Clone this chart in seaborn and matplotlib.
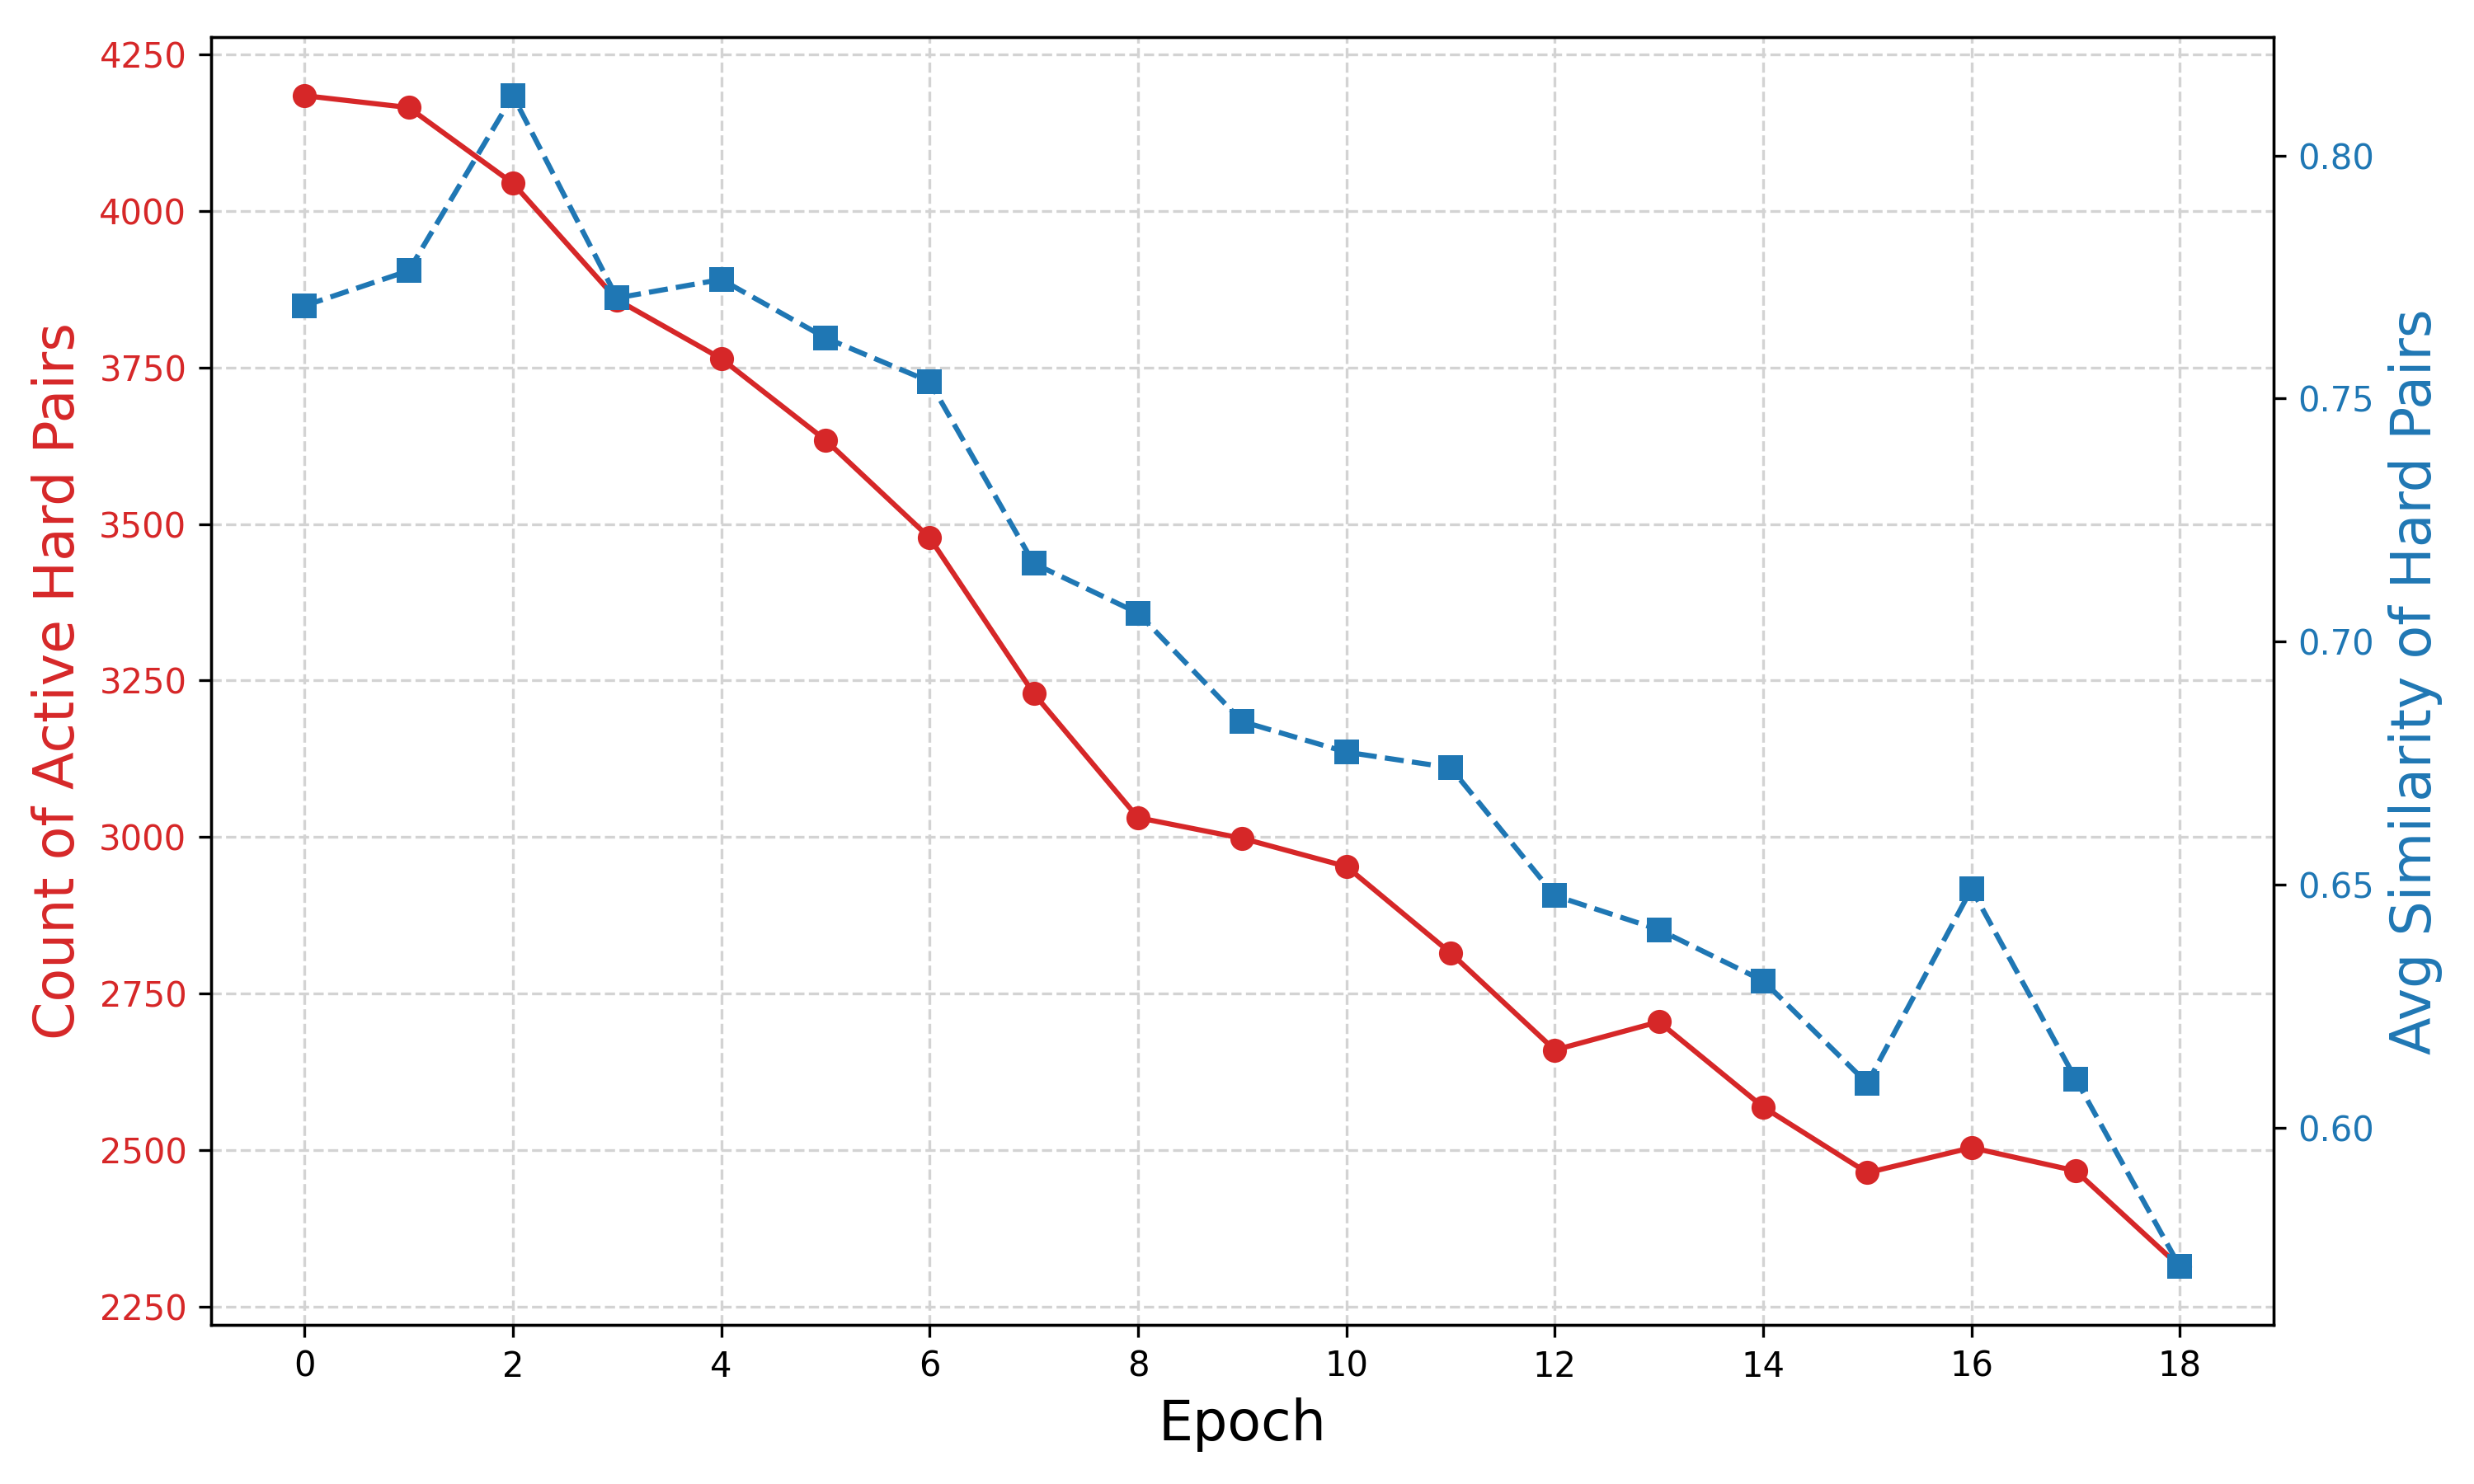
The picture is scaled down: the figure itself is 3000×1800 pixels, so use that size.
import matplotlib
matplotlib.use("Agg")
import matplotlib.pyplot as plt
import seaborn as sns
import pandas as pd

epochs = list(range(19))
active_hard_pairs = [4184, 4165, 4044, 3858, 3764, 3634, 3478, 3229, 3031, 2998,
                     2953, 2815, 2660, 2705, 2569, 2464, 2504, 2467, 2314]
avg_similarity = [0.7691, 0.7763, 0.8123, 0.7707, 0.7745, 0.7625, 0.7535, 0.7161,
                  0.7059, 0.6836, 0.6773, 0.6741, 0.6478, 0.6408, 0.6303, 0.6092,
                  0.6492, 0.6101, 0.5715]

x_label = "Epoch"
left_label = "Count of Active Hard Pairs"
right_label = "Avg Similarity of Hard Pairs"

red = "#d62728"
blue = "#1f77b4"

df = pd.DataFrame({"epoch": epochs, "count": active_hard_pairs, "sim": avg_similarity})

fig, ax1 = plt.subplots(figsize=(10, 6), dpi=300)

sns.lineplot(data=df, x="epoch", y="count", ax=ax1, color=red, marker="o",
             markersize=7, markeredgewidth=0, linewidth=1.5)
ax1.set_xlabel(x_label, fontsize=16)
ax1.set_ylabel(left_label, fontsize=16, color=red)
ax1.tick_params(axis="y", labelcolor=red)
ax1.set_xticks(range(0, 19, 2))
ax1.grid(True, linestyle="--", color="#d3d3d3", linewidth=0.8)

ax2 = ax1.twinx()
sns.lineplot(data=df, x="epoch", y="sim", ax=ax2, color=blue, marker="s",
             markersize=7, markeredgewidth=0, linewidth=1.5, linestyle="--")
ax2.set_ylabel(right_label, fontsize=16, color=blue)
ax2.tick_params(axis="y", labelcolor=blue)
ax2.set_xlabel(x_label, fontsize=16)

fig.subplots_adjust(left=0.0852, right=0.919, top=0.975, bottom=0.107)
fig.savefig("out.png", dpi=300)
